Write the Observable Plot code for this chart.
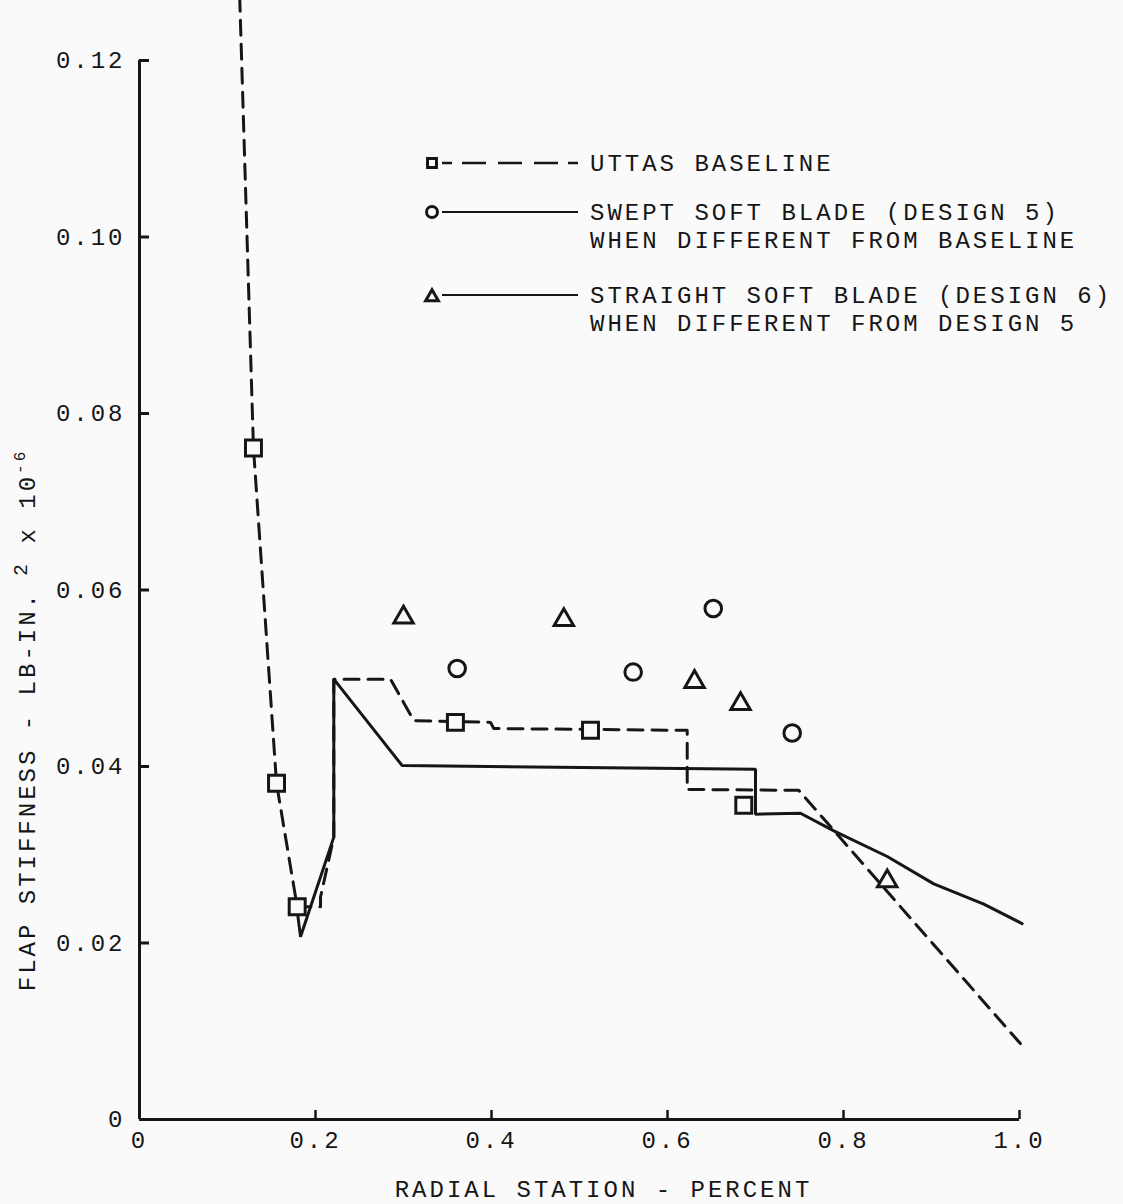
<!DOCTYPE html>
<html><head><meta charset="utf-8">
<script src="https://cdn.jsdelivr.net/npm/d3@7"></script>
<script src="https://cdn.jsdelivr.net/npm/@observablehq/plot@0.6"></script>
<style>html,body{margin:0;padding:0;background:#fafafa;}</style>
</head><body><div id="chart"></div>
<script>
// ---- data ----
const xTicks = [0, 0.2, 0.4, 0.6, 0.8, 1.0];
const xTickLabels = ["0", "0.2", "0.4", "0.6", "0.8", "1.0"];
const yTicks = [0, 0.02, 0.04, 0.06, 0.08, 0.10, 0.12];
const yTickLabels = ["0", "0.02", "0.04", "0.06", "0.08", "0.10", "0.12"];

// UTTAS baseline (dashed)
const baselineX = [0.113, 0.1295, 0.1557, 0.1792, 0.2057, 0.2057, 0.2208, 0.2208, 0.2852, 0.3117, 0.3989, 0.4026, 0.6224, 0.6224, 0.7492, 0.842, 1.001];
const baselineY = [0.130, 0.0761, 0.0381, 0.0241, 0.0241, 0.0252, 0.0320, 0.0499, 0.0499, 0.0452, 0.0450, 0.0443, 0.0441, 0.0374, 0.0373, 0.0267, 0.0086];
// Swept soft blade, design 5 (solid)
const design5X = [0.1775, 0.183, 0.2208, 0.2208, 0.2985, 0.70, 0.70, 0.7511, 0.789, 0.8497, 0.9026, 0.9594, 1.003];
const design5Y = [0.0250, 0.0207, 0.0320, 0.0499, 0.0401, 0.0397, 0.0346, 0.0347, 0.0327, 0.0298, 0.0267, 0.0244, 0.0222];

// markers
const squareX = [0.1295, 0.1557, 0.1792, 0.359, 0.5125, 0.6867];
const squareY = [0.0761, 0.0381, 0.0241, 0.0450, 0.0441, 0.0356];
const circleX = [0.361, 0.561, 0.652, 0.7417];
const circleY = [0.0511, 0.0507, 0.0579, 0.0438];
const triangleX = [0.300, 0.4822, 0.6307, 0.683, 0.8497];
const triangleY = [0.0569, 0.0566, 0.0496, 0.0471, 0.0270];

const legendTitles = ["UTTAS BASELINE", "SWEPT SOFT BLADE (DESIGN 5)", "STRAIGHT SOFT BLADE (DESIGN 6)"];
const legendNotes = [null, "WHEN DIFFERENT FROM BASELINE", "WHEN DIFFERENT FROM DESIGN 5"];
const legendSymbols = ["square", "circle", "triangle"];
const xTitle = "RADIAL STATION - PERCENT";

// ---- layout ----
const W = 1123, H = 1204;
const mt = 60, mb = 85, ml = 139, mr = 104;
const innerW = W - ml - mr, innerH = H - mt - mb;
const ink = "#161616", bg = "#fafafa";

const pts = (xs, ys) => xs.map((x, i) => ({x, y: ys[i]}));
const xLab = new Map(xTicks.map((d, i) => [d, xTickLabels[i]]));
const yLab = new Map(yTicks.map((d, i) => [d, yTickLabels[i]]));

const legendMark = () => {
  const g = d3.create("svg:g").attr("fill", ink).attr("text-anchor", "start");
  const rowY = [163, 212, 295];
  const sym = {square: d3.symbolSquare, circle: d3.symbolCircle, triangle: d3.symbolTriangle};
  const size = {square: 80, circle: 95, triangle: 70};
  legendTitles.forEach((t, i) => {
    const y = rowY[i];
    g.append("line").attr("x1", 442).attr("x2", 578).attr("y1", y).attr("y2", y)
      .attr("stroke", ink).attr("stroke-width", i === 0 ? 2.5 : 2.2)
      .attr("stroke-dasharray", i === 0 ? "10,10,24,12,24,12,24,10" : null);
    g.append("path").attr("d", d3.symbol(sym[legendSymbols[i]], size[legendSymbols[i]])())
      .attr("transform", `translate(432,${y + (legendSymbols[i] === "triangle" ? 2 : 0)})`)
      .attr("fill", bg).attr("stroke", ink).attr("stroke-width", 3);
    g.append("text").attr("x", 590).attr("y", y).attr("dy", "0.35em").attr("text-anchor", "start").text(t);
    if (legendNotes[i]) g.append("text").attr("x", 590).attr("y", y + 28).attr("dy", "0.35em").attr("text-anchor", "start").text(legendNotes[i]);
  });
  // y-axis title with superscripts
  const t = g.append("text").attr("transform", "translate(35,720) rotate(-90)").attr("text-anchor", "middle");
  t.append("tspan").text("FLAP STIFFNESS - LB-IN.");
  t.append("tspan").attr("dy", -8).attr("font-size", 20).text(" 2");
  t.append("tspan").attr("dy", 8).text(" x 10");
  t.append("tspan").attr("dy", -10).attr("font-size", 16).text("-6");
  return g.node();
};

const chart = Plot.plot({
  width: W, height: H,
  marginTop: mt, marginBottom: mb, marginLeft: ml, marginRight: mr,
  x: {domain: [0, 1]},
  y: {domain: [0, 0.12]},
  style: {fontFamily: "'Liberation Mono', 'DejaVu Sans Mono', monospace", fontSize: "24px", letterSpacing: "3px", color: ink, background: bg},
  marks: [
    // axes lines and inward ticks
    Plot.ruleX([0], {y1: yTicks[0], y2: yTicks[yTicks.length - 1], stroke: ink, strokeWidth: 3}),
    Plot.ruleY([0], {x1: xTicks[0], x2: xTicks[xTicks.length - 1], stroke: ink, strokeWidth: 3}),
    Plot.tickY(yTicks.slice(1), {y: d => d, insetRight: innerW - 10, stroke: ink, strokeWidth: 3}),
    Plot.tickX(xTicks.slice(1), {x: d => d, insetTop: innerH - 9, stroke: ink, strokeWidth: 2.5}),
    Plot.axisY({ticks: yTicks, tickFormat: d => yLab.get(d), tickSize: 0, tickPadding: 14, label: null}),
    Plot.axisX({ticks: xTicks, tickFormat: d => xLab.get(d), tickSize: 0, tickPadding: 11, label: null}),
    Plot.text([xTitle], {text: d => d, frameAnchor: "bottom", dy: 70, dx: 24, lineAnchor: "middle"}),
    // data lines
    Plot.line(pts(baselineX, baselineY), {x: "x", y: "y", stroke: ink, strokeWidth: 3, strokeDasharray: "15,9"}),
    Plot.line(pts(design5X, design5Y), {x: "x", y: "y", stroke: ink, strokeWidth: 3, strokeLinejoin: "miter"}),
    // markers
    Plot.dot(pts(squareX, squareY), {x: "x", y: "y", symbol: "square", r: 9, stroke: ink, strokeWidth: 3, fill: bg}),
    Plot.dot(pts(circleX, circleY), {x: "x", y: "y", symbol: "circle", r: 8.3, stroke: ink, strokeWidth: 3, fill: bg}),
    Plot.dot(pts(triangleX, triangleY), {x: "x", y: "y", symbol: "triangle", r: 7.2, stroke: ink, strokeWidth: 3, fill: bg}),
    legendMark
  ]
});
document.getElementById("chart").append(chart);
</script>
</body></html>
